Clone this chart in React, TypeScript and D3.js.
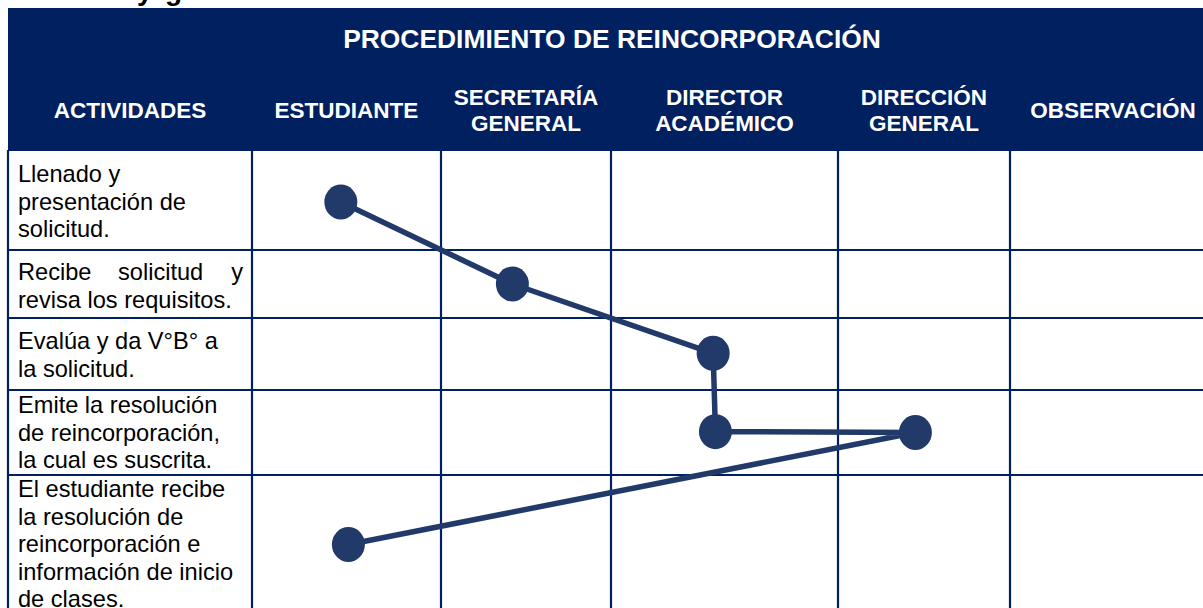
import React from "react";
import * as d3 from "d3";

// table content
const title = "PROCEDIMIENTO DE REINCORPORACIÓN";
const columnHeaders = [
  ["ACTIVIDADES"],
  ["ESTUDIANTE"],
  ["SECRETARÍA", "GENERAL"],
  ["DIRECTOR", "ACADÉMICO"],
  ["DIRECCIÓN", "GENERAL"],
  ["OBSERVACIÓN"],
];
const activities = [
  ["Llenado y", "presentación de", "solicitud."],
  ["Recibe solicitud y", "revisa los requisitos."],
  ["Evalúa y da V°B° a", "la solicitud."],
  ["Emite la resolución", "de reincorporación,", "la cual es suscrita."],
  ["El estudiante recibe", "la resolución de", "reincorporación e", "información de inicio", "de clases."],
];

// flow steps: column index, row index, and position inside the cell (0..1)
const stepCol = [1, 2, 3, 3, 4, 1];
const stepRow = [0, 1, 2, 3, 3, 4];
const stepColPos = [0.47, 0.42, 0.45, 0.46, 0.45, 0.51];
const stepRowPos = [0.52, 0.5, 0.49, 0.49, 0.5, 0.5];

const navy = "#002060";
const markColor = "#213a69";
const font = "'Liberation Sans', Arial, sans-serif";

export default function App() {
  const width = 1203, height = 608;
  const colEdges = [8, 252, 441, 611, 838, 1010, 1216];
  const rowEdges = [150, 250, 318, 390, 475, 614];
  const headerTop = 8;

  const x = d3.scaleLinear().domain(d3.range(colEdges.length)).range(colEdges);
  const y = d3.scaleLinear().domain(d3.range(rowEdges.length)).range(rowEdges);

  const pts: [number, number][] = stepCol.map((c, i) => [
    x(c + stepColPos[i]),
    y(stepRow[i] + stepRowPos[i]),
  ]);
  const line = d3.line();

  const lineH = 27.5;

  return (
    <svg width={width} height={height} style={{ position: "absolute", left: 0, top: 0 }}>
      <rect width={width} height={height} fill="#fff" />
      {/* clipped heading above the table, only descenders show */}
      <text x={137} y={-0.5} fontFamily={font} fontWeight="bold" fontSize={28}>y</text>
      <text x={165} y={-0.5} fontFamily={font} fontWeight="bold" fontSize={28}>g</text>

      {/* header */}
      <rect x={colEdges[0]} y={headerTop} width={colEdges[6] - colEdges[0]} height={rowEdges[0] - headerTop} fill={navy} />
      <text x={(colEdges[0] + colEdges[6]) / 2} y={48} textAnchor="middle" fill="#fff"
        fontFamily={font} fontWeight="bold" fontSize={26.4}>{title}</text>
      {columnHeaders.map((lines, i) => {
        const cx = (x(i) + x(i + 1)) / 2;
        const y0 = lines.length === 1 ? 118 : 105;
        return (
          <text key={i} textAnchor="middle" fill="#fff" fontFamily={font} fontWeight="bold" fontSize={22.5}>
            {lines.map((t, j) => (
              <tspan key={j} x={cx} y={y0 + j * 26}>{t}</tspan>
            ))}
          </text>
        );
      })}

      {/* body text */}
      {activities.map((lines, i) => {
        const baseY = [182, 280, 349, 413, 497][i];
        return (
          <g key={i} fontFamily={font} fontSize={23.6} fill="#000">
            {lines.map((t, j) => {
              if (t === "Recibe solicitud y") {
                return (
                  <text key={j} y={baseY + j * lineH}>
                    <tspan x={18}>Recibe</tspan>
                    <tspan x={118}>solicitud</tspan>
                    <tspan x={243} textAnchor="end">y</tspan>
                  </text>
                );
              }
              return <text key={j} x={18} y={baseY + j * lineH}>{t}</text>;
            })}
          </g>
        );
      })}

      {/* grid */}
      <g stroke={navy} strokeWidth={2.2}>
        {colEdges.map((cx, i) => (
          <line key={"v" + i} x1={cx} x2={cx} y1={rowEdges[0]} y2={height + 10} />
        ))}
        {rowEdges.slice(0, -1).map((ry, i) => (
          <line key={"h" + i} x1={colEdges[0]} x2={width + 10} y1={ry} y2={ry} />
        ))}
      </g>

      {/* flow */}
      <path d={line(pts) || ""} fill="none" stroke={markColor} strokeWidth={5.5} strokeLinejoin="round" />
      {pts.map((p, i) => (
        <ellipse key={i} cx={p[0]} cy={p[1]} rx={16.5} ry={17.5} fill={markColor} />
      ))}
    </svg>
  );
}
